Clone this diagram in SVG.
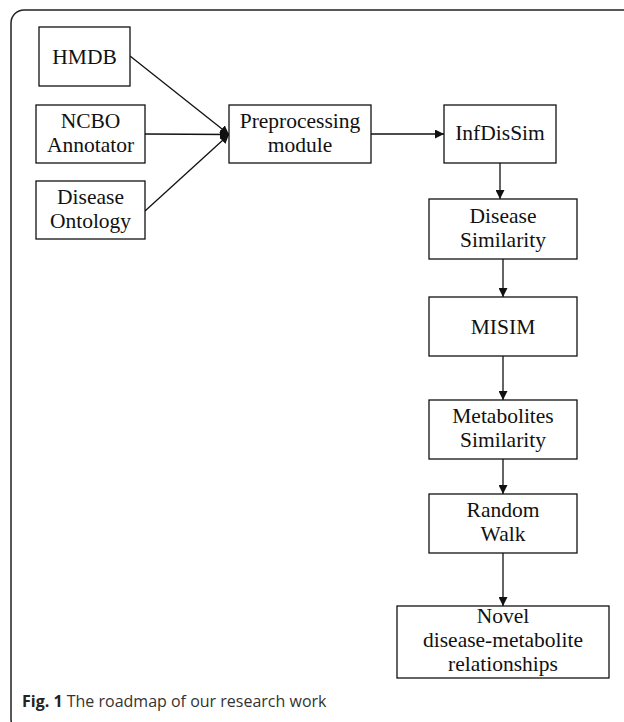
<svg xmlns="http://www.w3.org/2000/svg" width="624" height="722" viewBox="0 0 624 722">
<style>
.box{fill:#fff;stroke:#111;stroke-width:1.3}
.t{font-family:"Liberation Serif","Times New Roman",serif;font-size:21.5px;fill:#111;text-anchor:middle}
.c{stroke:#111;stroke-width:1.3;fill:none}
.cap{font-family:"Open Sans","Noto Sans",sans-serif;font-size:16px;fill:#333}
</style>
<defs>
<marker id="ah" viewBox="0 0 10 10" refX="10" refY="5" markerWidth="9" markerHeight="9" markerUnits="userSpaceOnUse" orient="auto">
<path d="M0,0 L10,5 L0,10 z" fill="#111"/>
</marker>
</defs>
<rect x="11" y="10" width="700" height="722" rx="13" ry="13" fill="none" stroke="#222" stroke-width="1.5"/>
<g id="connectors">
<line class="c" x1="130" y1="56" x2="229" y2="134.5" marker-end="url(#ah)"/>
<line class="c" x1="145" y1="134" x2="229" y2="134.5" marker-end="url(#ah)"/>
<line class="c" x1="145" y1="211" x2="229" y2="134.5" marker-end="url(#ah)"/>
<line class="c" x1="371" y1="134" x2="444" y2="134" marker-end="url(#ah)"/>
<line class="c" x1="500" y1="163" x2="500" y2="199" marker-end="url(#ah)"/>
<line class="c" x1="503" y1="259" x2="503" y2="297" marker-end="url(#ah)"/>
<line class="c" x1="503" y1="356" x2="503" y2="400" marker-end="url(#ah)"/>
<line class="c" x1="503" y1="459" x2="503" y2="494" marker-end="url(#ah)"/>
<line class="c" x1="503" y1="553" x2="503" y2="606" marker-end="url(#ah)"/>
</g>
<g id="hmdb"><rect class="box" x="39" y="27" width="91" height="59"/><text class="t" x="84.5" y="63.5">HMDB</text></g>
<g id="ncbo"><rect class="box" x="36" y="105" width="109" height="58"/><text class="t" x="90.5" y="128">NCBO</text><text class="t" x="90.5" y="152">Annotator</text></g>
<g id="disease-ontology"><rect class="box" x="36" y="181" width="109" height="58"/><text class="t" x="90.5" y="204">Disease</text><text class="t" x="90.5" y="228">Ontology</text></g>
<g id="preprocessing"><rect class="box" x="229" y="105" width="142" height="58"/><text class="t" x="300" y="128">Preprocessing</text><text class="t" x="300" y="152">module</text></g>
<g id="infdissim"><rect class="box" x="444" y="105" width="112" height="58"/><text class="t" x="500" y="140">InfDisSim</text></g>
<g id="disease-similarity"><rect class="box" x="429" y="199" width="148" height="60"/><text class="t" x="503" y="223">Disease</text><text class="t" x="503" y="247">Similarity</text></g>
<g id="misim"><rect class="box" x="429" y="297" width="148" height="59"/><text class="t" x="503" y="333.5">MISIM</text></g>
<g id="metabolites-similarity"><rect class="box" x="429" y="400" width="148" height="59"/><text class="t" x="503" y="423">Metabolites</text><text class="t" x="503" y="447">Similarity</text></g>
<g id="random-walk"><rect class="box" x="429" y="494" width="148" height="59"/><text class="t" x="503" y="517">Random</text><text class="t" x="503" y="541">Walk</text></g>
<g id="novel"><rect class="box" x="397" y="606" width="212" height="72"/><text class="t" x="503" y="623">Novel</text><text class="t" x="503" y="647">disease-metabolite</text><text class="t" x="503" y="671">relationships</text></g>
<text class="cap" x="22" y="707"><tspan font-weight="bold" fill="#222">Fig. 1</tspan> The roadmap of our research work</text>
</svg>
